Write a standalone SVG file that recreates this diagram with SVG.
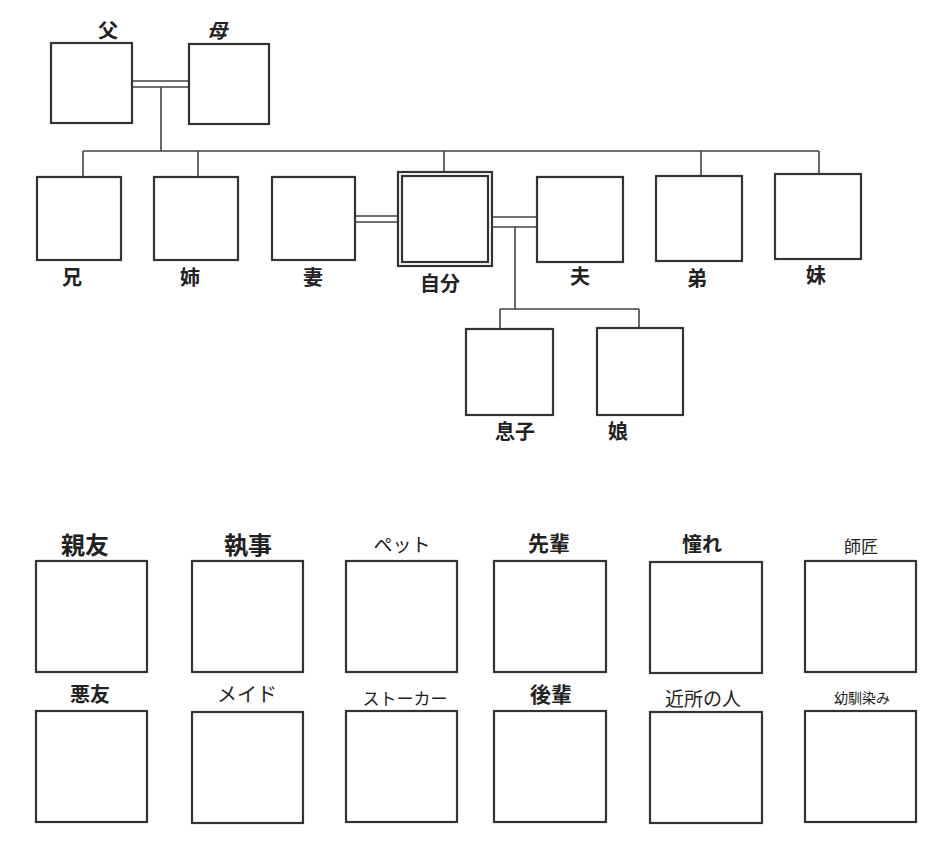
<svg xmlns="http://www.w3.org/2000/svg" width="941" height="853" viewBox="0 0 941 853">
<style>
.box{fill:#fff;stroke:#333;stroke-width:2.2}
.ln{fill:none;stroke:#444;stroke-width:1.6}
text{font-family:"Noto Sans CJK JP","Noto Sans",sans-serif;fill:#222;text-anchor:middle;dominant-baseline:central}
.b{font-weight:bold}
</style>
<rect width="941" height="853" fill="#fff"/>
<g id="connectors">
<path class="ln" d="M132 81H189M132 87H189M161 87V151M83 151H819M83 151V177M198 151V177M444 151V172M701 151V176M819 151V174"/>
<path class="ln" d="M355 216H398M355 222H398"/>
<path class="ln" d="M492 217H537M492 227H537M515 227V309M500 309H639M500 309V329M639 309V328"/>
</g>
<g id="father"><rect class="box" x="51" y="43" width="81" height="80"/><text class="b" x="108" y="29" font-size="20">父</text></g>
<g id="mother"><rect class="box" x="189" y="44" width="80" height="80"/><text class="b" x="217" y="29" font-size="20" font-style="italic">母</text></g>
<g id="ani"><rect class="box" x="37" y="177" width="84" height="83"/><text class="b" x="72" y="276" font-size="20">兄</text></g>
<g id="ane"><rect class="box" x="154" y="177" width="84" height="83"/><text class="b" x="190" y="276" font-size="20">姉</text></g>
<g id="tsuma"><rect class="box" x="272" y="177" width="83" height="83"/><text class="b" x="313" y="276" font-size="20">妻</text></g>
<g id="jibun"><rect class="box" x="398" y="172" width="94" height="94"/><rect class="box" x="402" y="176" width="86" height="86"/><text class="b" x="440" y="282" font-size="20">自分</text></g>
<g id="otto"><rect class="box" x="537" y="177" width="86" height="85"/><text class="b" x="580" y="275" font-size="20">夫</text></g>
<g id="otouto"><rect class="box" x="656" y="176" width="86" height="85"/><text class="b" x="697" y="277" font-size="20">弟</text></g>
<g id="imouto"><rect class="box" x="775" y="174" width="86" height="85"/><text class="b" x="816" y="274" font-size="20">妹</text></g>
<g id="musuko"><rect class="box" x="466" y="329" width="87" height="86"/><text class="b" x="515" y="430" font-size="20">息子</text></g>
<g id="musume"><rect class="box" x="597" y="328" width="86" height="87"/><text class="b" x="618" y="430" font-size="20">娘</text></g>
<g id="shinyu"><rect class="box" x="36" y="561" width="111" height="111"/><text class="b" x="85" y="543" font-size="24">親友</text></g>
<g id="shitsuji"><rect class="box" x="192" y="561" width="111" height="111"/><text class="b" x="248" y="543" font-size="24">執事</text></g>
<g id="pet"><rect class="box" x="346" y="561" width="111" height="111"/><text x="402" y="543" font-size="19">ペット</text></g>
<g id="senpai"><rect class="box" x="494" y="561" width="112" height="111"/><text class="b" x="549" y="542" font-size="21">先輩</text></g>
<g id="akogare"><rect class="box" x="650" y="562" width="112" height="111"/><text class="b" x="702" y="543" font-size="20">憧れ</text></g>
<g id="shisho"><rect class="box" x="805" y="561" width="111" height="111"/><text x="861" y="545" font-size="17">師匠</text></g>
<g id="akuyu"><rect class="box" x="36" y="711" width="111" height="111"/><text class="b" x="90" y="693" font-size="20">悪友</text></g>
<g id="maid"><rect class="box" x="192" y="712" width="111" height="111"/><text x="247" y="693" font-size="20">メイド</text></g>
<g id="stalker"><rect class="box" x="346" y="711" width="111" height="111"/><text x="405" y="697" font-size="17">ストーカー</text></g>
<g id="kohai"><rect class="box" x="494" y="711" width="112" height="111"/><text class="b" x="551" y="693" font-size="21">後輩</text></g>
<g id="kinjo"><rect class="box" x="650" y="712" width="112" height="111"/><text x="703" y="697" font-size="19">近所の人</text></g>
<g id="osananajimi"><rect class="box" x="805" y="711" width="111" height="111"/><text x="862" y="697" font-size="14">幼馴染み</text></g>
</svg>
